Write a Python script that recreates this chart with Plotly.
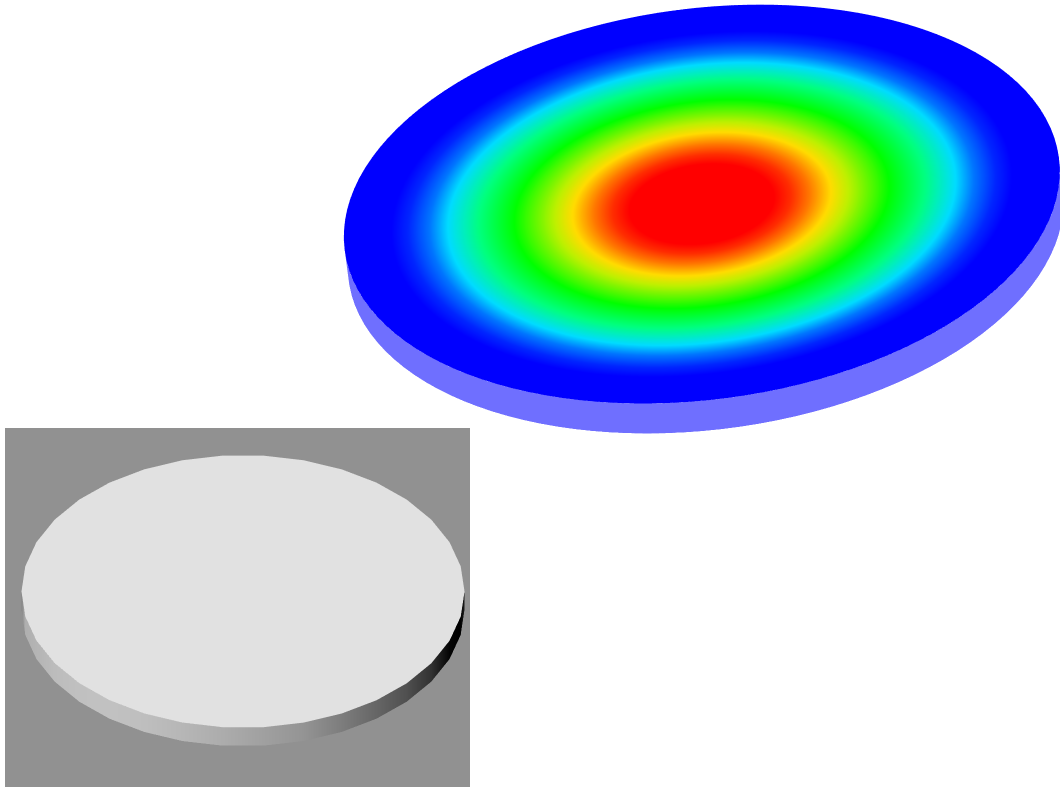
import numpy as np
import plotly.graph_objects as go

# radial profile of the heated disc
ringRadius = [0.0, 0.2, 0.25, 0.3, 0.36, 0.41, 0.525, 0.625, 0.71, 0.76, 0.82, 0.87, 1.0]
ringValue = [1.0, 1.0, 0.95, 0.875, 0.75, 0.686, 0.5, 0.375, 0.25, 0.136, 0.045, 0.0, 0.0]

# grey level of the plain disc wall, one per polygon vertex (left to right along the front)
wallShade = [130, 175, 180, 188, 192, 193, 190, 182, 172, 160, 148, 125, 102, 80, 50, 5, 0, 30]
polySides = 34

rainbow = [[0, "rgb(0,0,255)"], [0.25, "rgb(0,220,255)"], [0.375, "rgb(0,255,128)"], [0.5, "rgb(0,255,0)"],
           [0.686, "rgb(190,240,0)"], [0.75, "rgb(255,220,0)"], [0.875, "rgb(255,120,0)"], [1, "rgb(255,0,0)"]]
greys = [[0, "rgb(0,0,0)"], [1, "rgb(255,255,255)"]]
flat = dict(ambient=1, diffuse=0, specular=0, fresnel=0, roughness=1)
thickness = 0.1


def camera(elev, tilt, shiftX, shiftY):
    # orthographic camera, shift is how far the disc moves on screen in world units
    e = np.radians(elev)
    a = np.radians(tilt)
    up0 = np.array([0, np.sin(e), np.cos(e)])
    right0 = np.array([1.0, 0, 0])
    up = np.cos(a)*up0 + np.sin(a)*right0
    right = np.cos(a)*right0 - np.sin(a)*up0
    view = np.array([0, -np.cos(e), np.sin(e)])
    center = -shiftX*right - shiftY*up
    eye = center + 4*view
    return dict(projection_type="orthographic",
                up=dict(x=up[0], y=up[1], z=up[2]),
                center=dict(x=center[0], y=center[1], z=center[2]),
                eye=dict(x=eye[0], y=eye[1], z=eye[2]))


def hiddenScene(domX, domY, bg, cam, zoom, zScale):
    # orthographic zoom goes through the aspect ratio
    hide = dict(visible=False, showgrid=False, zeroline=False, showbackground=False,
                showspikes=False, showline=False, showticklabels=False, ticks="")
    return dict(domain=dict(x=domX, y=domY), bgcolor=bg, camera=cam, aspectmode="manual",
                aspectratio=dict(x=zoom, y=zoom, z=zoom*zScale), hovermode=False,
                xaxis=dict(range=[-1, 1], **hide), yaxis=dict(range=[-1, 1], **hide),
                zaxis=dict(range=[-thickness, 0], **hide))


def ring(radius, angles):
    return np.outer(radius, np.cos(angles)), np.outer(radius, np.sin(angles))


def wall(angles):
    xw = np.array([np.cos(angles)]*2)
    yw = np.array([np.sin(angles)]*2)
    zw = np.array([[-thickness]*len(angles), [0]*len(angles)])
    return xw, yw, zw


fig = go.Figure()

# top disc
smooth = np.radians(np.arange(0, 361, 3))
x1, y1 = ring(ringRadius, smooth)
c1 = np.outer(ringValue, np.ones(len(smooth)))
fig.add_trace(go.Surface(x=x1, y=y1, z=np.zeros(x1.shape), surfacecolor=c1, colorscale=rainbow,
                         cmin=0, cmax=1, showscale=False, lighting=flat, hoverinfo="skip", scene="scene"))
# wall vertices sit off x=0, a vertex right on it leaves a seam
xw, yw, zw = wall(smooth + np.radians(1.5))
fig.add_trace(go.Surface(x=xw, y=yw, z=zw, surfacecolor=np.zeros(xw.shape), cmin=0, cmax=1,
                         colorscale=[[0, "#6f6fff"], [1, "#6f6fff"]], showscale=False,
                         lighting=flat, hoverinfo="skip", scene="scene"))

# bottom disc, polygon
poly = np.linspace(0, 2*np.pi, polySides + 1)
x2, y2 = ring([0, 1], poly)
fig.add_trace(go.Surface(x=x2, y=y2, z=np.zeros(x2.shape), surfacecolor=np.zeros(x2.shape), cmin=0, cmax=1,
                         colorscale=[[0, "#e1e1e1"], [1, "#e1e1e1"]], showscale=False,
                         lighting=flat, hoverinfo="skip", scene="scene2"))
front = np.linspace(np.pi, 2*np.pi, polySides//2 + 1)
xf, yf, zf = wall(front)
fig.add_trace(go.Surface(x=xf, y=yf, z=zf, surfacecolor=[wallShade, wallShade], colorscale=greys,
                         cmin=0, cmax=255, showscale=False, lighting=flat, hoverinfo="skip", scene="scene2"))

fig.update_layout(
    width=1060, height=788, margin=dict(l=0, r=0, t=0, b=0), paper_bgcolor="white", showlegend=False,
    scene=hiddenScene([0, 1], [0, 1], "rgba(0,0,0,0)", camera(32.9, 7.4, 0.441, 0.444), 1.828, 0.05),
    scene2=hiddenScene([5/1060, 470/1060], [1/788, 360/788], "#919191", camera(38, 0, 0.0306, 0.038), 2.468, 0.053),
)
fig.write_html("out.html", config=dict(displayModeBar=False),
               post_script="document.body.style.margin='0';")
